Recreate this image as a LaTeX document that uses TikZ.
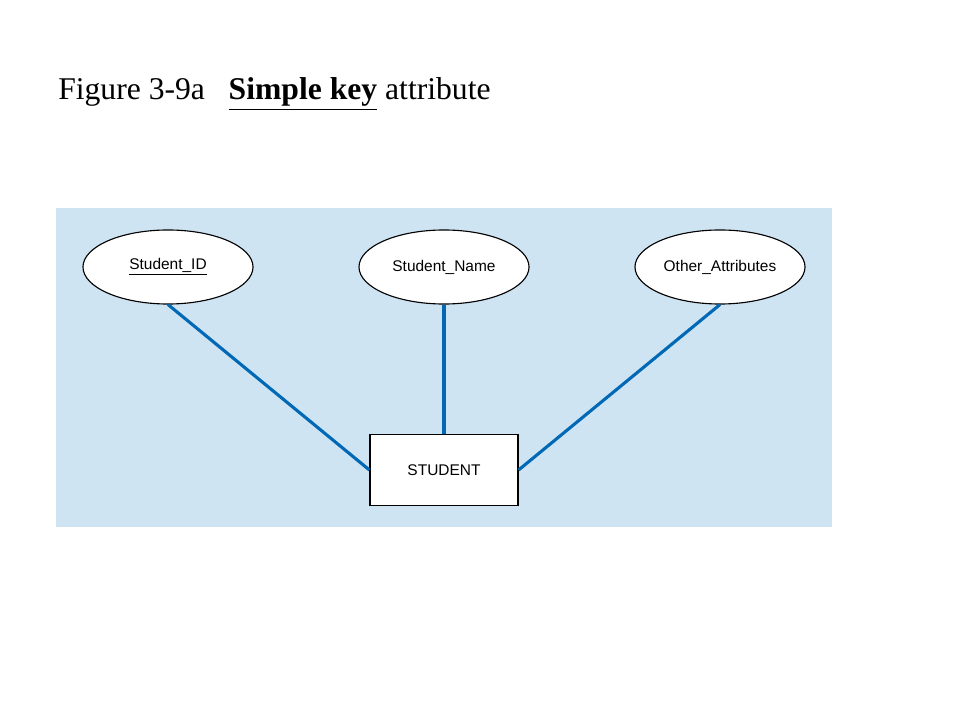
\documentclass[tikz,border=0pt]{standalone}
\usepackage{fontspec}
\setmainfont{Liberation Serif}
\setsansfont{Liberation Sans}
\usepackage{tikz}
\usetikzlibrary{shapes.geometric}
\definecolor{panelblue}{RGB}{206,228,243}
\definecolor{linkblue}{RGB}{0,104,180}

\begin{document}
\begin{tikzpicture}[x=0.025cm,y=-0.025cm,
		attr/.style={ellipse,draw=black,fill=white,line width=0.8pt,minimum width=4.25cm,minimum height=1.85cm,inner sep=0pt,font=\sffamily\fontsize{11}{13}\selectfont},
		entity/.style={rectangle,draw=black,fill=white,line width=0.8pt,minimum width=3.7cm,minimum height=1.78cm,inner sep=0pt,font=\sffamily\fontsize{11}{13}\selectfont},
		link/.style={draw=linkblue,line width=2.2pt}]
				\useasboundingbox (0,0) rectangle (960,720);
				\draw (58,100) node[anchor=base west,inner sep=0pt,font=\fontsize{22.5}{26}\selectfont] (title) {Figure 3-9a\hspace{0.75em}\underline{\textbf{Simple key}} attribute};
				\fill [panelblue] (56,208) rectangle (832,527);

				\node [entity] (student) at (444,470) {STUDENT};
				\node [attr] (sid) at (168,267) {\underline{Student\_ID}};
				\node [attr] (sname) at (444,267) {Student\_Name};
				\node [attr] (other) at (720,267) {Other\_Attributes};

				\draw [link] (sid.south) -- (student.west);
				\draw [link] (sname.south) -- (student.north);
				\draw [link] (other.south) -- (student.east);
			\end{tikzpicture}
\end{document}
